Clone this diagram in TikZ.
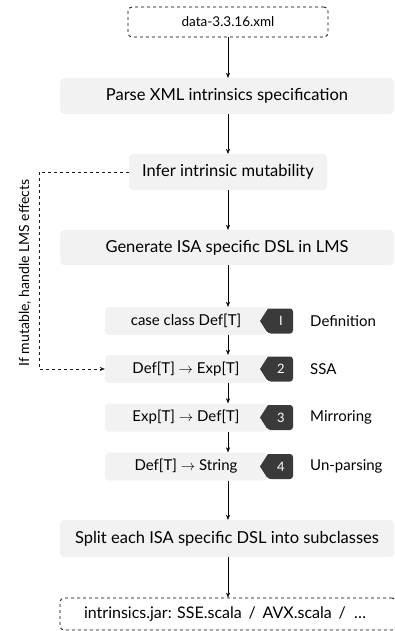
\documentclass[tikz,border=0pt]{standalone}
\usepackage{fontspec}
\setmainfont{Lato}
\usetikzlibrary{arrows.meta}
\definecolor{boxgray}{HTML}{F2F2F2}
\definecolor{badgegray}{HTML}{3A3A3A}
\tikzset{
  fnt/.style={font=\fontsize{15}{18}\selectfont},
  bigfnt/.style={font=\fontsize{16.5}{19}\selectfont},
  stepbox/.style={fill=boxgray, rounded corners=4pt, inner sep=0pt, fnt},
  bigbox/.style={stepbox, bigfnt},
  filebox/.style={draw, dashed, thick, rounded corners=4pt, inner sep=0pt, fnt},
  arr/.style={-{Stealth[length=5pt,width=4pt]}, thin},
  lbl/.style={anchor=west, inner sep=0pt, fnt},
}
\begin{document}
\begin{tikzpicture}[x=1pt,y=-1pt]
\useasboundingbox (0,0) rectangle (394,631);
% top file
\node[filebox, minimum width=200pt, minimum height=30pt, font=\fontsize{13.5}{16}\selectfont] (xml) at (228,22) {data-3.3.16.xml};
\node[bigbox, minimum width=334pt, minimum height=36pt] (parse) at (227,96) {Parse XML intrinsics specification};
\node[bigbox, minimum width=198pt, minimum height=36pt] (infer) at (228,172) {Infer intrinsic mutability};
\node[bigbox, minimum width=334pt, minimum height=35pt] (gen) at (227,247.5) {Generate ISA specific DSL in LMS};
% inner steps
\node[stepbox, minimum width=162pt, minimum height=28pt] (s1) at (186,321) {case class Def[T]};
\node[stepbox, minimum width=162pt, minimum height=28pt] (s2) at (186,369) {Def[T] \(\rightarrow\) Exp[T]};
\node[stepbox, minimum width=162pt, minimum height=28pt] (s3) at (186,417.5) {Exp[T] \(\rightarrow\) Def[T]};
\node[stepbox, minimum width=162pt, minimum height=28pt] (s4) at (186,466.5) {Def[T] \(\rightarrow\) String};
% badges
\foreach \n/\yy/\t in {b1/321/I, b2/369/2, b3/417.5/3, b4/466.5/4}{
  \fill[badgegray, rounded corners=3pt] (293,\yy-12.5) -- (293,\yy+12.5) -- (268,\yy+12.5) [sharp corners] -- (260,\yy) -- (268,\yy-12.5) [rounded corners=3pt] -- cycle;
  \node[text=white, font=\fontsize{13}{15}\selectfont, inner sep=0pt] (\n) at (281,\yy) {\t};
}
\node[lbl] (l1) at (310,321) {Definition};
\node[lbl] (l2) at (310,369) {SSA};
\node[lbl] (l3) at (310,417.5) {Mirroring};
\node[lbl] (l4) at (310,466.5) {Un-parsing};
\node[bigbox, minimum width=334pt, minimum height=37pt] (split) at (227,538.5) {Split each ISA specific DSL into subclasses};
\node[filebox, minimum width=336pt, minimum height=32pt, font=\fontsize{16}{19}\selectfont] (jar) at (228,614) {\hspace*{-6pt}intrinsics.jar: SSE.scala \,/\, AVX.scala \,/\ \ \ldots};
% arrows
\draw[arr] (xml.south -| 228,0) -- (parse.north -| 228,0);
\draw[arr] (parse.south -| 228,0) -- (infer.north -| 228,0);
\draw[arr] (infer.south -| 228,0) -- (gen.north -| 228,0);
\draw[arr] (gen.south -| 228,0) -- (s1.north -| 228,0);
\draw[arr] (s1.south -| 228,0) -- (s2.north -| 228,0);
\draw[arr] (s2.south -| 228,0) -- (s3.north -| 228,0);
\draw[arr] (s3.south -| 228,0) -- (s4.north -| 228,0);
\draw[arr] (s4.south -| 228,0) -- (split.north -| 228,0);
\draw[arr] (split.south -| 228,0) -- (jar.north -| 228,0);
% feedback
\coordinate (c1) at (39,172);
\coordinate (c2) at (39,369);
\draw[arr, dashed, gray!20!black] (infer.west) -- (c1) -- (c2) -- (s2.west);
\node[rotate=90, inner sep=0pt, font=\fontsize{14}{17}\selectfont] (side) at (25,273) {If mutable, handle LMS effects};
\end{tikzpicture}
\end{document}
